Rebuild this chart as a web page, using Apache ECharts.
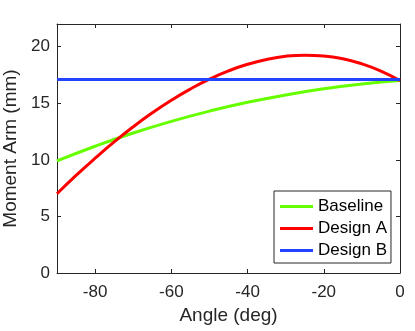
<!DOCTYPE html>
<html>
<head>
<meta charset="utf-8">
<script src="https://cdn.jsdelivr.net/npm/echarts@6/dist/echarts.min.js"></script>
<style>
  html, body { margin: 0; padding: 0; background: #fff; }
  #chart { width: 415px; height: 331px; }
</style>
</head>
<body>
<div id="chart"></div>
<script>
// data
const baselineAngles = [-90, -80, -70, -60, -50, -40, -30, -20, -10, 0]
const baselineValues = [9.9, 11.2, 12.37, 13.4, 14.3, 15.08, 15.73, 16.27, 16.7, 17.0]

const designAAngles = [-90, -85, -80, -75, -70, -65, -60, -55, -50, -45, -40, -35, -30, -25, -20, -15, -10, -5, 0]
const designAValues = [7.0, 8.62, 10.14, 11.58, 12.92, 14.15, 15.27, 16.26, 17.13, 17.86, 18.44, 18.87, 19.15, 19.25, 19.18, 18.93, 18.48, 17.84, 17.0]

const designBAngles = [-90, 0]
const designBValues = [17.1, 17.1]

const xTicks = [-80, -60, -40, -20, 0]
const yTicks = [0, 5, 10, 15, 20]

const pairs = (xs, ys) => xs.map((x, i) => [x, ys[i]])

const font = "'Liberation Sans', Arial, Helvetica, sans-serif"
const axisColor = '#262626'

// box axes (top / right only carry ticks)
function xAx(pos, show) {
  return {
    type: 'value', position: pos, min: -90, max: 0,
    name: show ? 'Angle (deg)' : '', nameLocation: 'middle', nameGap: 33,
    nameTextStyle: {fontFamily: font, fontSize: 19, color: axisColor},
    axisLine: {show: true, onZero: false, lineStyle: {color: axisColor, width: 1}},
    axisTick: {show: true, inside: true, length: 4, customValues: xTicks, lineStyle: {color: axisColor}},
    axisLabel: {show: show, customValues: xTicks, margin: 11, fontFamily: font, fontSize: 17, color: axisColor},
    splitLine: {show: false}
  }
}
function yAx(pos, show) {
  return {
    type: 'value', position: pos, min: 0, max: 22,
    name: show ? 'Moment Arm (mm)' : '', nameLocation: 'middle', nameGap: 32,
    nameTextStyle: {fontFamily: font, fontSize: 19, color: axisColor},
    axisLine: {show: true, onZero: false, lineStyle: {color: axisColor, width: 1}},
    axisTick: {show: true, inside: true, length: 4, customValues: yTicks, lineStyle: {color: axisColor}},
    axisLabel: {show: show, customValues: yTicks, margin: 7, fontFamily: font, fontSize: 17, color: axisColor},
    splitLine: {show: false}
  }
}

const chart = echarts.init(document.getElementById('chart'), null, {renderer: 'canvas'})
chart.setOption({
  animation: false,
  backgroundColor: '#fff',
  grid: {left: 57, right: 15, top: 24, bottom: 58, containLabel: false, outerBoundsMode: 'none'},
  xAxis: [xAx('bottom', true), xAx('top', false)],
  yAxis: [yAx('left', true), yAx('right', false)],
  legend: {
    orient: 'vertical', left: 274, top: 191,
    padding: [7, 4, 4, 6], itemGap: 5,
    itemWidth: 33, itemHeight: 3, icon: 'rect',
    borderColor: axisColor, borderWidth: 1, backgroundColor: '#fff',
    textStyle: {fontFamily: font, fontSize: 17, lineHeight: 17, color: '#000'},
    data: ['Baseline', 'Design A', 'Design B']
  },
  series: [
    {
      name: 'Baseline', type: 'line', smooth: true, symbol: 'none',
      color: '#66ff00', lineStyle: {width: 3},
      data: pairs(baselineAngles, baselineValues)
    },
    {
      name: 'Design A', type: 'line', smooth: true, symbol: 'none',
      color: '#ff0000', lineStyle: {width: 3},
      data: pairs(designAAngles, designAValues)
    },
    {
      name: 'Design B', type: 'line', symbol: 'none',
      color: '#2244ff', lineStyle: {width: 3},
      data: pairs(designBAngles, designBValues)
    }
  ]
})
</script>
</body>
</html>
